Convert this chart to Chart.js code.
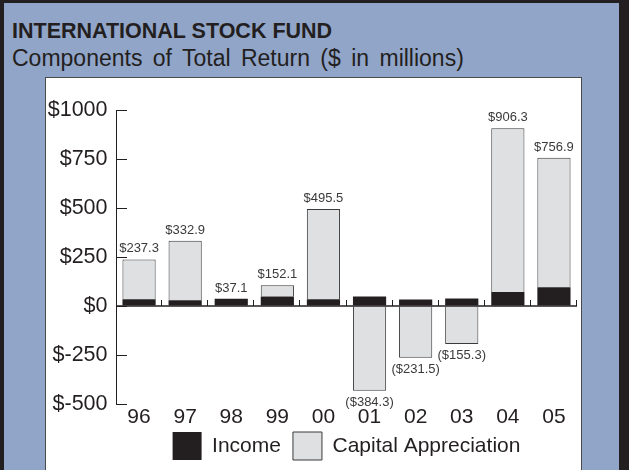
<!DOCTYPE html>
<html>
<head>
<meta charset="utf-8">
<script src="https://cdn.jsdelivr.net/npm/chart.js@4.4.0/dist/chart.umd.min.js"></script>
<style>
html,body{margin:0;padding:0;background:#231f20;}
#frame{position:relative;width:629px;height:470px;background:#231f20;overflow:hidden;font-family:"Liberation Sans",Arial,sans-serif;color:#231f20;}
#blue{position:absolute;left:4px;top:3px;width:615px;height:467px;background:#91a5c9;}
#title{position:absolute;left:12px;top:21px;font-weight:bold;font-size:21.5px;line-height:21.5px;white-space:nowrap;}
#sub{position:absolute;left:12px;top:47px;font-size:23px;line-height:23px;word-spacing:4px;white-space:nowrap;}
#white{position:absolute;left:45px;top:77px;width:535px;height:400px;background:#fff;border:1px solid #4a4a4a;}
#c{position:absolute;left:0;top:0;}
</style>
</head>
<body>
<div id="frame">
  <div id="blue"></div>
  <div id="title">INTERNATIONAL STOCK FUND</div>
  <div id="sub">Components of Total Return ($ in millions)</div>
  <div id="white"></div>
  <canvas id="c" width="629" height="470"></canvas>
</div>
<script>
const categories = ["96", "97", "98", "99", "00", "01", "02", "03", "04", "05"];
const incomeValues = [34, 29, 37.1, 48, 34, 48, 33, 38, 72, 96];
const capitalValues = [203.3, 303.9, null, 58, 461.5, -432.3, -264.5, -193.3, 834.3, 660.9];
const totalLabels = ["$237.3", "$332.9", "$37.1", "$152.1", "$495.5", "($384.3)", "($231.5)", "($155.3)", "$906.3", "$756.9"];
const seriesNames = ["Income", "Capital Appreciation"];

const FONT = '"Liberation Sans", Arial, sans-serif';
const INK = '#231f20';

const legendShift = {
  id: 'legendShift',
  afterLayout(chart) {
    const l = chart.legend;
    if (l) { l.top -= 14; l.bottom -= 14; }
  }
};

const decorPlugin = {
  id: 'decor',
  afterDatasetsDraw(chart) {
    const {ctx, chartArea: a, scales: {x, y}} = chart;
    const y0 = y.getPixelForValue(0);
    ctx.save();
    ctx.strokeStyle = INK;
    ctx.lineWidth = 1.5;
    ctx.beginPath(); ctx.moveTo(a.left, y0); ctx.lineTo(a.right, y0); ctx.stroke();
    ctx.lineWidth = 1;
    const n = categories.length;
    const step = x.getPixelForValue(1) - x.getPixelForValue(0);
    for (let i = 0; i < n; i++) {
      const xx = Math.round(x.getPixelForValue(i) + step / 2) - 0.5;
      ctx.beginPath(); ctx.moveTo(xx, y0); ctx.lineTo(xx, y0 - 6); ctx.stroke();
    }
    y.ticks.forEach(t => {
      const py = Math.round(y.getPixelForValue(t.value)) + 0.5;
      ctx.beginPath(); ctx.moveTo(a.left, py); ctx.lineTo(a.left + 11, py); ctx.stroke();
    });
    ctx.font = '13px ' + FONT;
    ctx.fillStyle = '#3a3a3a';
    ctx.textAlign = 'center';
    categories.forEach((c, i) => {
      let top = y0, bottom = y0, cx = x.getPixelForValue(i);
      chart.data.datasets.forEach((ds, di) => {
        const el = chart.getDatasetMeta(di).data[i];
        if (!el || ds.data[i] == null) return;
        top = Math.min(top, el.y, el.base);
        bottom = Math.max(bottom, el.y, el.base);
      });
      const total = incomeValues[i] + (capitalValues[i] || 0);
      if (total >= 0) {
        ctx.textBaseline = 'alphabetic';
        ctx.fillText(totalLabels[i], cx, top - 7);
      } else {
        ctx.textBaseline = 'top';
        ctx.fillText(totalLabels[i], cx, bottom + 5);
      }
    });
    ctx.restore();
  }
};

new Chart(document.getElementById('c'), {
  type: 'bar',
  data: {
    labels: categories,
    datasets: [
      {label: seriesNames[0], data: incomeValues, backgroundColor: INK, borderWidth: 0, stack: 's',
       barPercentage: 0.72, categoryPercentage: 1},
      {label: seriesNames[1], data: capitalValues, backgroundColor: '#dfe0e2', borderColor: '#3a3a3a', borderWidth: 1, stack: 's',
       barPercentage: 0.72, categoryPercentage: 1}
    ]
  },
  options: {
    responsive: false,
    devicePixelRatio: 1,
    animation: false,
    layout: {padding: {left: 0, top: 110, right: 52, bottom: -14}},
    scales: {
      x: {
        stacked: true,
        grid: {display: false, drawTicks: false},
        border: {display: false},
        ticks: {color: INK, font: {family: FONT, size: 21}, padding: 1, maxRotation: 0, autoSkip: false},
        afterFit(s) { s.height = 30; }
      },
      y: {
        stacked: true,
        min: -500, max: 1000,
        grid: {display: true, drawOnChartArea: false, drawTicks: false},
        border: {display: true, color: INK, width: 1},
        ticks: {stepSize: 250, color: INK, font: {family: FONT, size: 21.5}, padding: 8.5,
                callback: v => '$' + v},
        afterFit(s) { s.width = 116; }
      }
    },
    plugins: {
      tooltip: {enabled: false},
      legend: {
        position: 'bottom',
        fullSize: false,
        labels: {boxWidth: 29, boxHeight: 28, padding: 12, color: INK, font: {family: FONT, size: 21}}
      }
    }
  },
  plugins: [legendShift, decorPlugin]
});
</script>
</body>
</html>
